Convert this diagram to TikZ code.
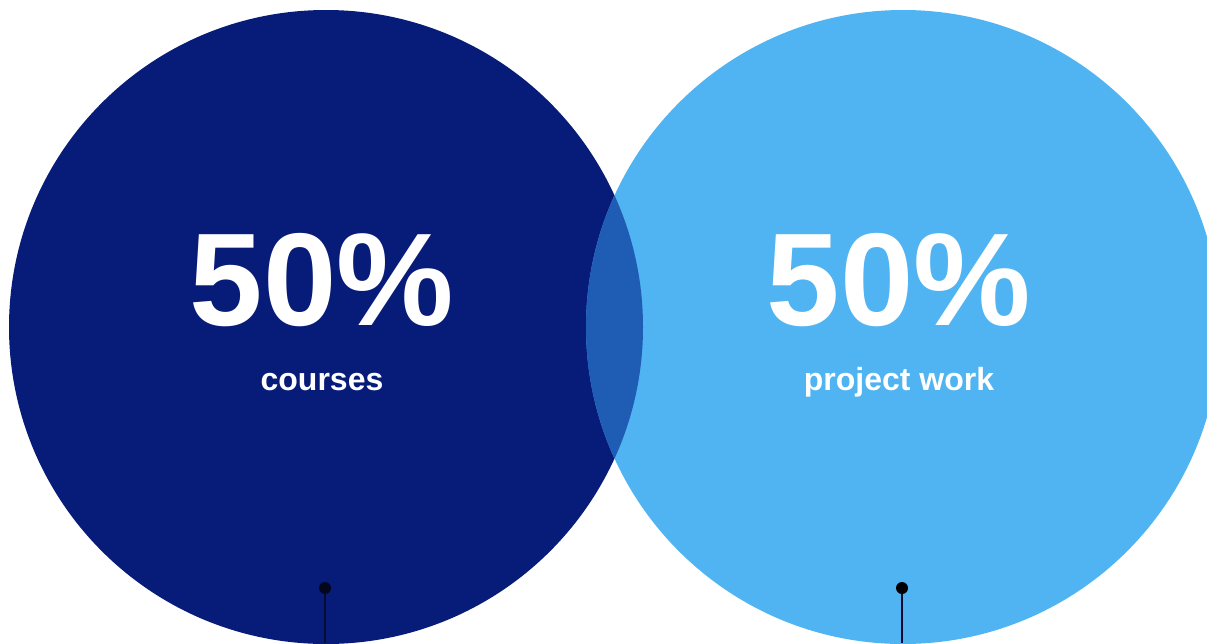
\documentclass[tikz,border=0pt]{standalone}
\usepackage{fontspec}
\setmainfont{Liberation Sans}
\begin{document}
\begin{tikzpicture}[x=1pt,y=-1pt,
  bubble/.style={circle,minimum size=634pt,inner sep=0pt,draw=none},
  big/.style={text=white,font=\fontsize{132}{132}\selectfont\bfseries,anchor=base,inner sep=0pt},
  small/.style={text=white,font=\fontsize{32}{32}\selectfont\bfseries,anchor=base,inner sep=0pt},
  pin/.style={circle,minimum size=12pt,inner sep=0pt},
  stem/.style={line width=2pt}]
\definecolor{navy}{HTML}{071B79}
\definecolor{sky}{HTML}{4FB4F1}
\definecolor{mid}{HTML}{1F5CB4}
\useasboundingbox (0,0) rectangle (1207,643);
\fill[white] (0,0) rectangle (1207,643);
\node[bubble,fill=navy] (left) at (326,327) {};
\node[bubble,fill=sky] (right) at (903,327) {};
\begin{scope}
  \clip (326,327) circle (317);
  \fill[mid] (903,327) circle (317);
\end{scope}
\node[big] (p1) at (322,325) {50\%};
\node[small] (t1) at (322,390) {courses};
\node[big] (p2) at (899,325) {50\%};
\node[small] (t2) at (899,390) {project work};
\coordinate (b1) at (325,643);
\coordinate (b2) at (902,643);
\node[pin,fill=black!75!navy] (d1) at (325,588) {};
\node[pin,fill=black] (d2) at (902,588) {};
\draw[stem,draw=black!60!navy] (d1) -- (b1);
\draw[stem,draw=black!60!navy] (d2) -- (b2);
\end{tikzpicture}
\end{document}
